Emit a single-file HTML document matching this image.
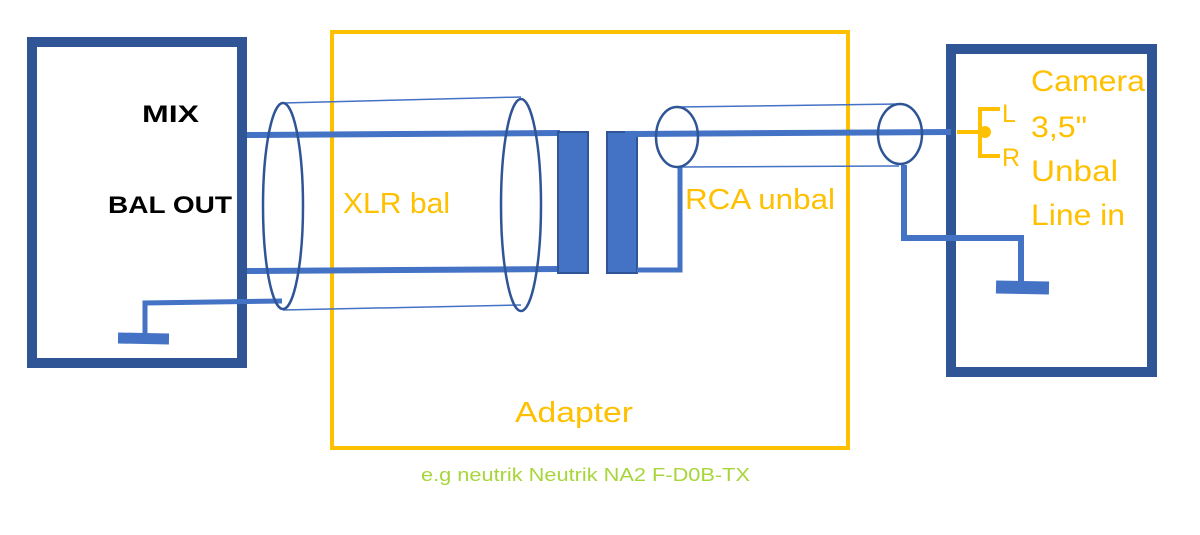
<!DOCTYPE html>
<html><head><meta charset="utf-8"><style>
html,body{margin:0;padding:0;background:#fff;width:1200px;height:535px;overflow:hidden}
svg{display:block}
text{font-family:"Liberation Sans",sans-serif}
</style></head><body>
<svg width="1200" height="535" viewBox="0 0 1200 535" xmlns="http://www.w3.org/2000/svg">
<rect x="32" y="42" width="210" height="321" fill="none" stroke="#2F5597" stroke-width="10"/>
<rect x="951" y="49" width="201" height="323" fill="none" stroke="#2F5597" stroke-width="10"/>
<rect x="332" y="32" width="516" height="416" fill="none" stroke="#FFC000" stroke-width="4"/>
<line x1="247" y1="135" x2="560" y2="133" stroke="#4472C4" stroke-width="6"/>
<line x1="247" y1="271" x2="560" y2="269" stroke="#4472C4" stroke-width="6"/>
<polyline points="282,301 145,303 145,333" fill="none" stroke="#4472C4" stroke-width="5"/>
<line x1="118" y1="338" x2="169" y2="339" stroke="#4472C4" stroke-width="11"/>
<line x1="283" y1="103" x2="521" y2="97" stroke="#4472C4" stroke-width="1.5"/>
<line x1="283" y1="310" x2="521" y2="305" stroke="#4472C4" stroke-width="1.5"/>
<ellipse cx="283" cy="206" rx="20" ry="103" fill="none" stroke="#2F5597" stroke-width="2.5"/>
<ellipse cx="521" cy="205" rx="20" ry="106" fill="none" stroke="#2F5597" stroke-width="2.5"/>
<rect x="558" y="132" width="30" height="141" fill="#4472C4" stroke="#2F5597" stroke-width="2"/>
<rect x="607" y="132" width="30" height="141" fill="#4472C4" stroke="#2F5597" stroke-width="2"/>
<polyline points="637,270 680,270 680,167" fill="none" stroke="#4472C4" stroke-width="5"/>
<line x1="625" y1="134" x2="951" y2="132" stroke="#4472C4" stroke-width="6"/>
<line x1="677" y1="107" x2="899" y2="104" stroke="#4472C4" stroke-width="1.5"/>
<line x1="677" y1="167" x2="899" y2="166" stroke="#4472C4" stroke-width="1.5"/>
<ellipse cx="677" cy="137" rx="21" ry="30" fill="none" stroke="#2F5597" stroke-width="2.5"/>
<ellipse cx="900" cy="134" rx="22" ry="30" fill="none" stroke="#2F5597" stroke-width="2.5"/>
<polyline points="904,165 904,238 1021,238 1021,284" fill="none" stroke="#4472C4" stroke-width="6"/>
<line x1="996" y1="287" x2="1049" y2="288" stroke="#4472C4" stroke-width="13"/>
<line x1="957" y1="132" x2="984" y2="132" stroke="#FFC000" stroke-width="4"/>
<circle cx="985" cy="132" r="6" fill="#FFC000"/>
<polyline points="1000,109 980,109 980,156 1000,156" fill="none" stroke="#FFC000" stroke-width="4"/>
<text x="1002" y="122" font-size="25" fill="#FFC000">L</text>
<text x="1002" y="166" font-size="25" fill="#FFC000">R</text>
<g font-size="30" fill="#FFC000">
<text x="1031" y="91" textLength="114" lengthAdjust="spacingAndGlyphs">Camera</text>
<text x="1031" y="137" textLength="56" lengthAdjust="spacingAndGlyphs">3,5"</text>
<text x="1031" y="181" textLength="87" lengthAdjust="spacingAndGlyphs">Unbal</text>
<text x="1031" y="225" textLength="94" lengthAdjust="spacingAndGlyphs">Line in</text>
</g>
<text x="142" y="122" font-size="24" font-weight="bold" fill="#000" textLength="57" lengthAdjust="spacingAndGlyphs">MIX</text>
<text x="108" y="213" font-size="24" font-weight="bold" fill="#000" textLength="124" lengthAdjust="spacingAndGlyphs">BAL OUT</text>
<text x="343" y="213" font-size="29" fill="#FFC000" textLength="107" lengthAdjust="spacingAndGlyphs">XLR bal</text>
<text x="685" y="209" font-size="29" fill="#FFC000" textLength="150" lengthAdjust="spacingAndGlyphs">RCA unbal</text>
<text x="515" y="422" font-size="29" fill="#FFC000" textLength="118" lengthAdjust="spacingAndGlyphs">Adapter</text>
<text x="421" y="481" font-size="18" fill="#A7D63A" textLength="329" lengthAdjust="spacingAndGlyphs">e.g  neutrik Neutrik NA2 F-D0B-TX</text>
</svg>
</body></html>
